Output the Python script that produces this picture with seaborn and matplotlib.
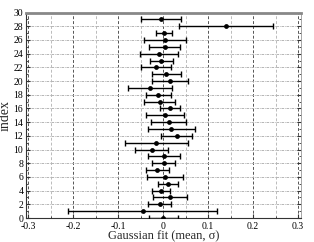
import matplotlib
matplotlib.use("Agg")
import matplotlib.pyplot as plt
import seaborn as sns
import numpy as np
import pandas as pd
from matplotlib.ticker import MultipleLocator

index = list(range(30))
mean = [0.000, -0.046, -0.008, 0.015, -0.005, 0.011, 0.004, -0.013, 0.001, 0.002,
        -0.026, -0.015, 0.030, 0.018, 0.012, 0.004, 0.015, -0.008, -0.011, -0.030,
        0.015, 0.007, -0.016, -0.004, -0.009, 0.003, 0.004, 0.002, 0.140, -0.005]
sigma = [0.032, 0.165, 0.025, 0.037, 0.020, 0.022, 0.040, 0.025, 0.025, 0.035,
         0.036, 0.070, 0.034, 0.052, 0.039, 0.042, 0.022, 0.034, 0.028, 0.049,
         0.041, 0.032, 0.034, 0.025, 0.042, 0.035, 0.047, 0.017, 0.104, 0.044]

df = pd.DataFrame({"index": index, "mean": mean, "sigma": sigma})

sns.set_style("white")
plt.rcParams["font.family"] = ["Liberation Serif", "DejaVu Serif"]

fig = plt.figure(figsize=(3.14, 2.42), dpi=100)
ax = fig.add_axes([0.083, 0.099, 0.875, 0.849])

ax.errorbar(df["mean"], df["index"], xerr=df["sigma"], fmt="none",
            ecolor="black", elinewidth=1.0, capsize=2.5, capthick=1.0, zorder=3)
sns.scatterplot(data=df, x="mean", y="index", ax=ax, color="black", s=12,
                edgecolor="black", linewidth=0, zorder=4)

ax.set_xlim(-0.305, 0.306)
ax.set_ylim(0, 30)
ax.xaxis.set_major_locator(MultipleLocator(0.1))
ax.xaxis.set_minor_locator(MultipleLocator(0.05))
ax.yaxis.set_major_locator(MultipleLocator(2))
ax.yaxis.set_minor_locator(MultipleLocator(1))
ax.set_xticks([-0.3, -0.2, -0.1, 0, 0.1, 0.2, 0.3])
ax.set_xticklabels(["-0.3", "-0.2", "-0.1", "0", "0.1", "0.2", "0.3"])

ax.grid(True, which="major", axis="x", color="#555555", linestyle=(0, (3, 2)), linewidth=0.7)
ax.grid(True, which="minor", axis="x", color="#bbbbbb", linestyle=(0, (3, 2)), linewidth=0.7)
ax.grid(True, which="major", axis="y", color="#aaaaaa", linestyle=(0, (3, 1, 1, 1)), linewidth=0.6)

ax.tick_params(axis="both", which="both", direction="in", labelsize=7,
               top=False, right=True, left=True, bottom=True, colors="#333333")
ax.tick_params(axis="x", which="major", pad=3)
ax.tick_params(axis="y", which="major", pad=2)
ax.tick_params(which="major", length=3)
ax.tick_params(which="minor", length=1.5)
for lab in ax.get_xticklabels() + ax.get_yticklabels():
    lab.set_color("black")

ax.spines["top"].set_color("#888888")
ax.spines["top"].set_linewidth(2)
ax.spines["left"].set_color("#333333")
ax.spines["left"].set_linewidth(0.8)
ax.spines["bottom"].set_color("#333333")
ax.spines["bottom"].set_linewidth(0.8)
ax.spines["right"].set_color("#999999")
ax.spines["right"].set_linewidth(0.6)

ax.set_xlabel("Gaussian fit (mean, σ)", fontsize=9, labelpad=-1)
ax.set_ylabel("index", fontsize=10, labelpad=1)

fig.savefig("out.png", dpi=100)
